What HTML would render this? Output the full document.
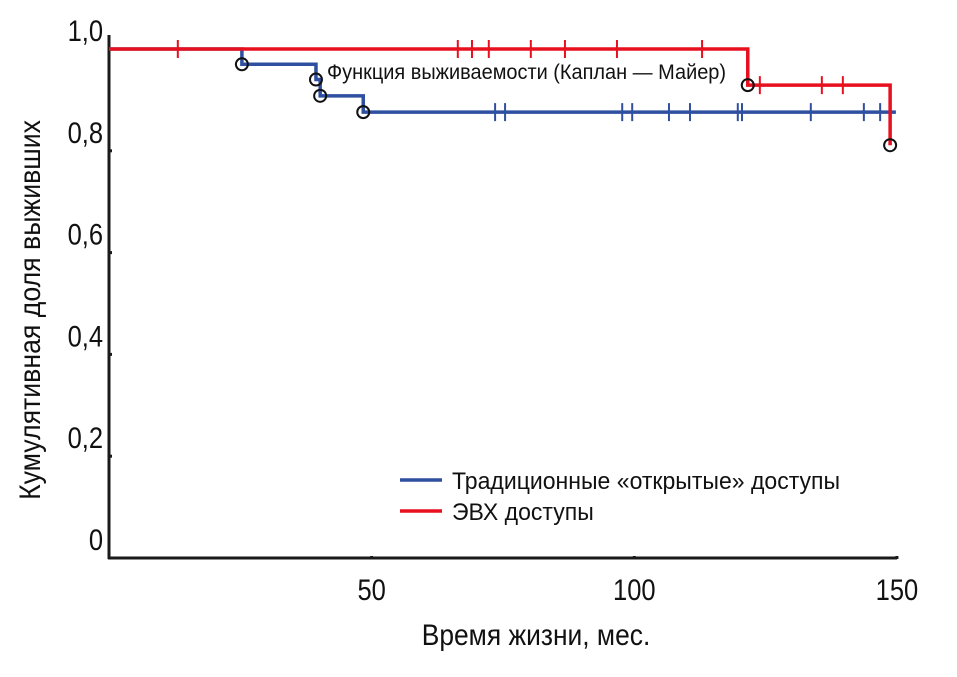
<!DOCTYPE html>
<html><head><meta charset="utf-8"><style>
body{margin:0;background:#fff;width:957px;height:672px;overflow:hidden}
text{font-family:"Liberation Sans",sans-serif;fill:#111}
</style></head><body>
<svg id="chart" width="957" height="672" xmlns="http://www.w3.org/2000/svg"></svg>
<script>
const xTicks=[50,100,150];
const yTicks=[0,0.2,0.4,0.6,0.8,1.0];
const yTickLabels=["0","0,2","0,4","0,6","0,8","1,0"];
// blue: traditional
const blueTimes=[0,25.3,39.4,40.2,48.4,149.8];
const blueSurv=[1.0,0.97,0.94,0.908,0.876,0.876];
const blueCensor=[73.5,75.4,97.7,99.6,106.6,110.6,119.7,120.5,133.6,143.7,146.8];
// red: EVT
const redTimes=[0,121.6,148.7];
const redSurv=[1.0,0.929,0.811];
const redCensor=[13.1,66.4,69.1,72.3,80.3,86.8,96.7,112.9,123.9,135.7,139.7];
const NS="http://www.w3.org/2000/svg";
const svg=document.getElementById('chart');
const X=v=>109+v*5.253, Y=v=>558-v*509;
function el(t,a,txt){const e=document.createElementNS(NS,t);for(const k in a)e.setAttribute(k,a[k]);if(txt!==undefined)e.textContent=txt;svg.appendChild(e);return e;}
function txt(x,y,size,sx,anchor,s,rot){
 const tr=`translate(${x},${y})`+(rot?` rotate(${rot})`:'')+` scale(${sx},1)`;
 return el('text',{x:0,y:0,'font-size':size,'text-anchor':anchor,transform:tr},s);
}
let e;
e=el('line',{x1:109,y1:35,x2:109,y2:559,stroke:'#1a1a1a','stroke-width':3});

e=el('line',{x1:108,y1:558,x2:897,y2:558,stroke:'#1a1a1a','stroke-width':3});

yTicks.forEach((v,i)=>{
 e=el('rect',{x:109,y:Y(v)-1.5,width:3,height:3,fill:'#1a1a1a'});
 
 e=txt(103,Y(v)-8,30,0.85,'end',yTickLabels[i]);
 
});
xTicks.forEach(v=>{
 e=el('rect',{x:X(v)-1.5,y:556,width:3,height:3,fill:'#1a1a1a'});
 
 e=txt(X(v),600,30,0.85,'middle',String(v));
 
});
e=txt(536,645,30,0.88,'middle','Время жизни, мес.');

e=txt(40,310,30,0.89,'middle','Кумулятивная доля выживших',-90);

function series(times,surv,color,name){
 let d=`M${X(times[0])},${Y(surv[0])}`;
 for(let i=1;i<times.length;i++){d+=` H${X(times[i])} V${Y(surv[i])}`;}
 const p=el('path',{d:d,fill:'none',stroke:color,'stroke-width':3.5});
 
}
function stepVal(times,surv,t){let s=surv[0];for(let i=0;i<times.length;i++)if(times[i]<=t)s=surv[i];return s;}
function censors(times,surv,cs,color,name){
 cs.forEach(t=>{const y=Y(stepVal(times,surv,t));
  const l=el('line',{x1:X(t),y1:y-9,x2:X(t),y2:y+9,stroke:color,'stroke-width':2});
  });
}
function events(times,surv,upto,name){
 for(let i=1;i<upto;i++){
  const c=el('circle',{cx:X(times[i]),cy:Y(surv[i]),r:6,fill:'none',stroke:'#111','stroke-width':2});
  }
}
series(blueTimes,blueSurv,'#2f4fa0','traditional');
censors(blueTimes,blueSurv,blueCensor,'#2f4fa0','traditional');
series(redTimes,redSurv,'#e8101f','evt');
censors(redTimes,redSurv,redCensor,'#e8101f','evt');
events(blueTimes,blueSurv,blueTimes.length-1,'traditional');
events(redTimes,redSurv,redTimes.length,'evt');
e=txt(327,79,21,0.95,'start','Функция выживаемости (Каплан — Майер)');

[['#2f4fa0','Традиционные «открытые» доступы',480,'legend-entry-traditional'],['#e8101f','ЭВХ доступы',511,'legend-entry-evt']].forEach(([c,t,y,n])=>{
 const l=el('line',{x1:400,y1:y,x2:442,y2:y,stroke:c,'stroke-width':3.5});
 
 const tx=txt(452,y+9,24,0.96,'start',t);
 
});
</script>
</body></html>
